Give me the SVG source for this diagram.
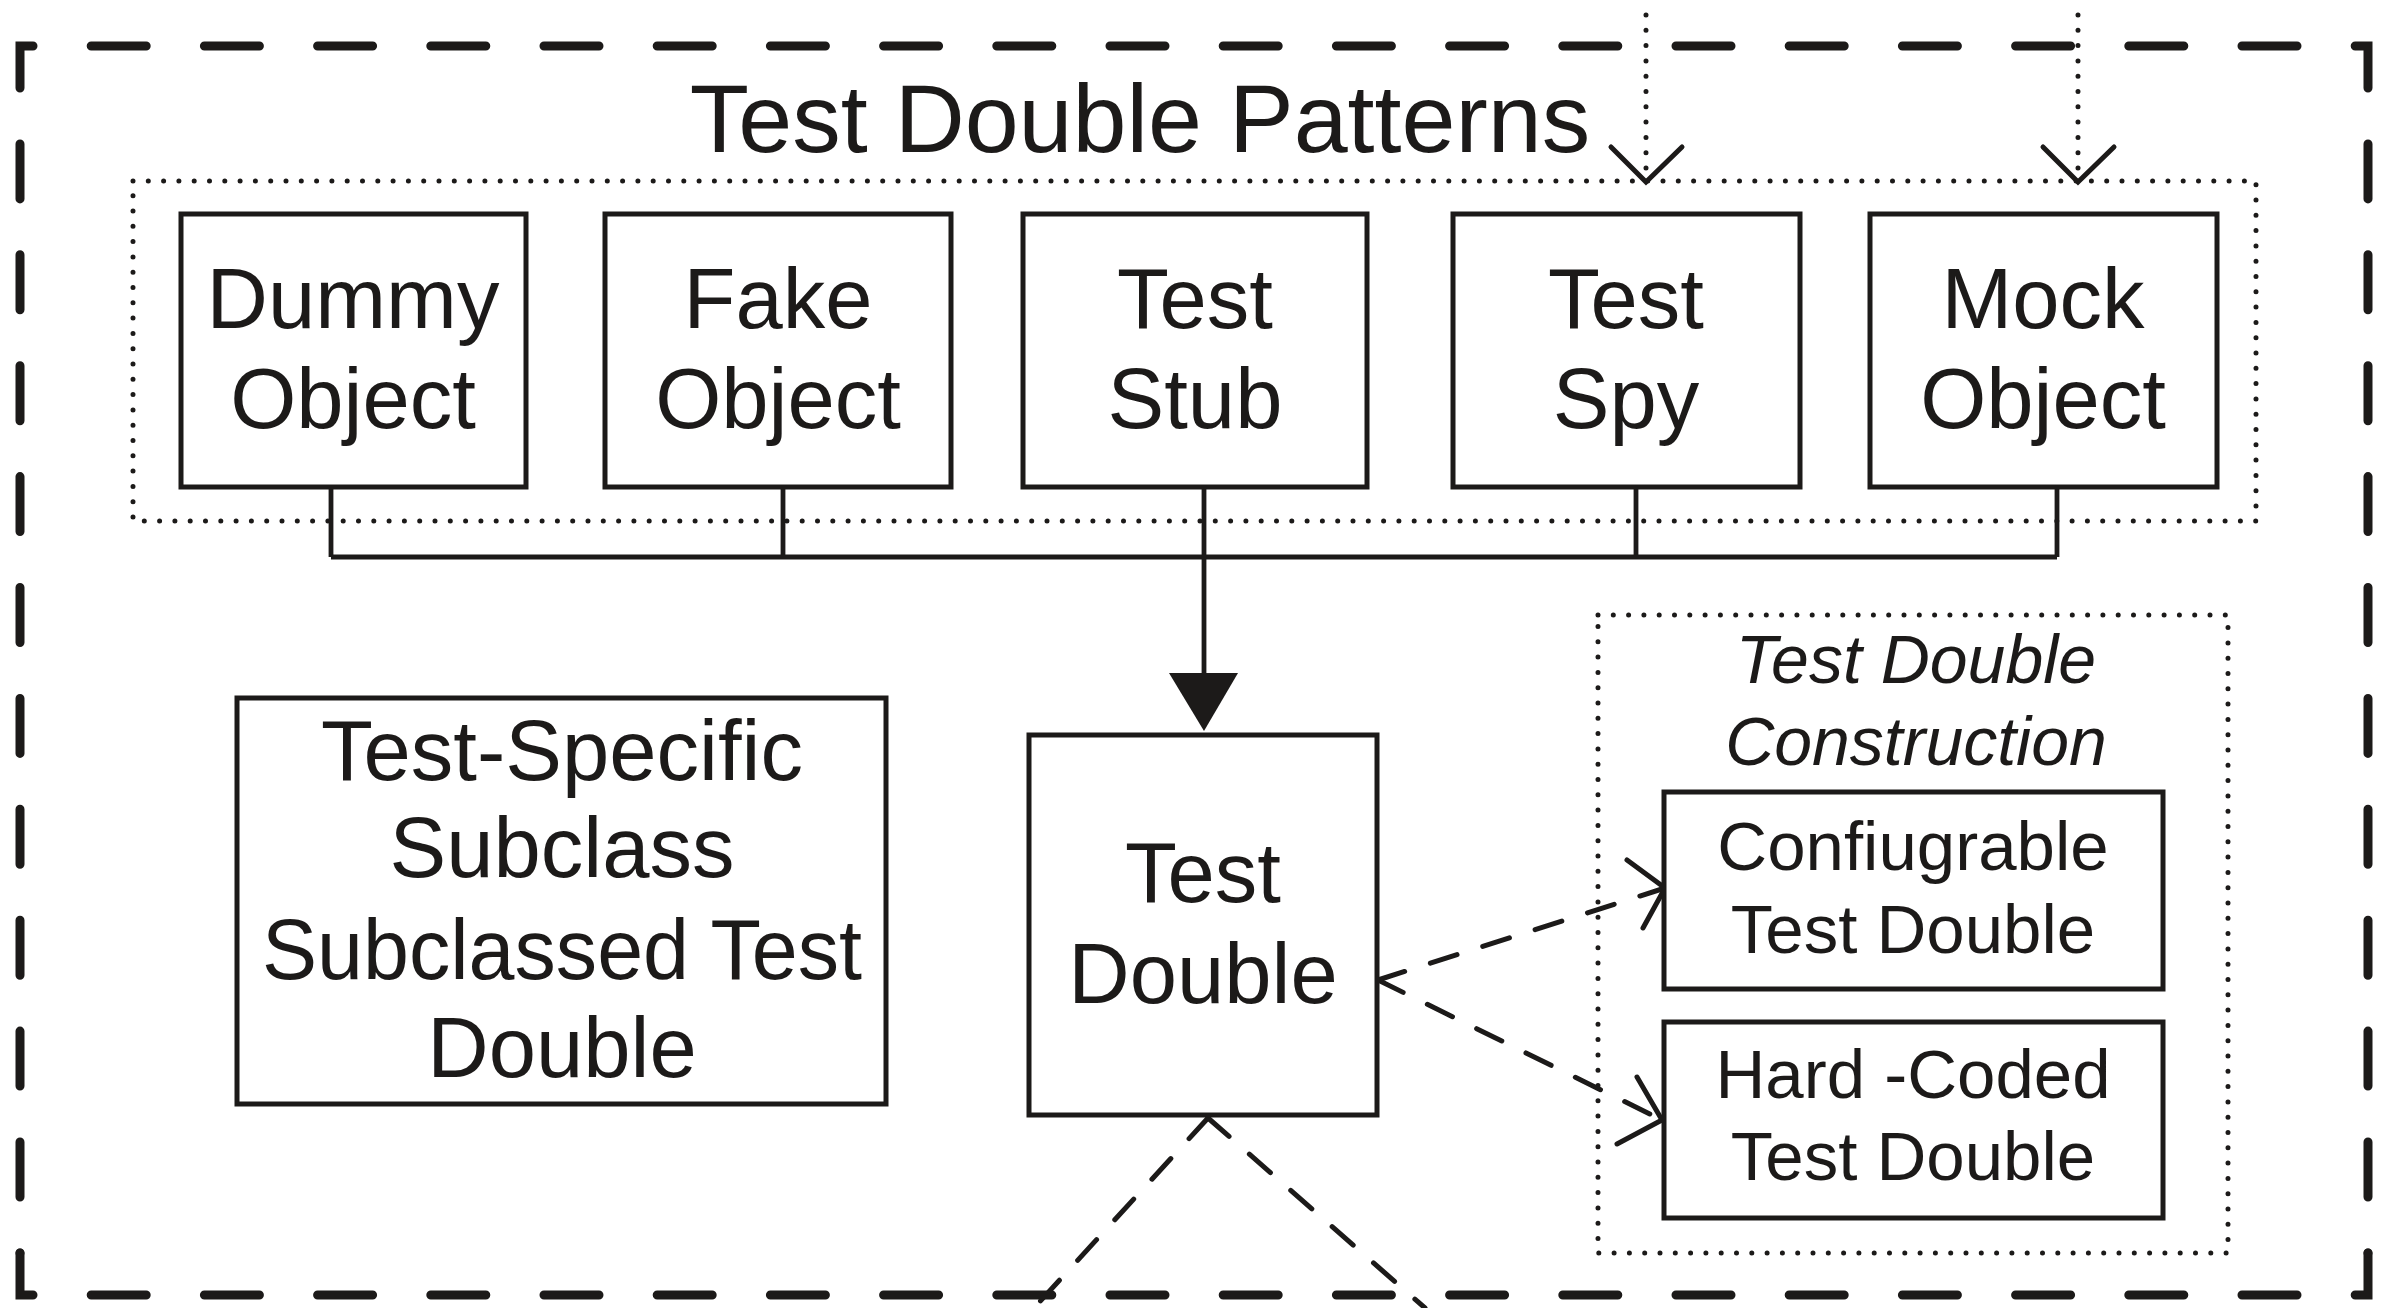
<svg xmlns="http://www.w3.org/2000/svg" width="2393" height="1308" viewBox="0 0 2393 1308">
  <style>
    .bg { fill: #ffffff; }
    .box { fill: #ffffff; stroke: #1c1a19; stroke-width: 5; }
    .dotted { fill: none; stroke: #1c1a19; stroke-width: 5; stroke-linecap: round; stroke-dasharray: 0 15.3; }
    .border { fill: none; stroke: #1c1a19; stroke-width: 9; stroke-linecap: round; stroke-linejoin: miter; }
    .line { fill: none; stroke: #1c1a19; stroke-width: 4.8; }
    .dash { fill: none; stroke: #1c1a19; stroke-width: 5; stroke-linecap: round; stroke-dasharray: 28 27; }
    .head { fill: none; stroke: #1c1a19; stroke-width: 5; stroke-linecap: round; stroke-linejoin: miter; }
    .t { font-family: "Liberation Sans", Arial, Helvetica, sans-serif; fill: #1c1a19; text-anchor: middle; }
    .big { font-size: 85px; }
    .mid { font-size: 69px; }
    .ital { font-size: 68px; font-style: italic; }
    .title { font-size: 97px; }
  </style>
  <rect class="bg" x="0" y="0" width="2393" height="1308"/>

  <!-- outer dashed frame -->
  <g id="frame">
    <path class="border" d="M20,88 V46 H2368 V88" stroke-dasharray="55 58.2"/>
    <path class="border" d="M20,1253 V1295 H2368 V1253" stroke-dasharray="55 58.2"/>
    <path class="border" d="M20,88 V1253" stroke-dasharray="55 55.9" stroke-dashoffset="55"/>
    <path class="border" d="M2368,88 V1253" stroke-dasharray="55 55.9" stroke-dashoffset="55"/>
    <text class="t title" x="1140" y="152">Test Double Patterns</text>
  </g>

  <!-- dotted group containers -->
  <g id="patterns-group">
    <rect class="dotted" x="133" y="181" width="2123" height="340"/>
  </g>
  <g id="construction-group">
    <rect class="dotted" x="1598" y="615" width="630" height="638"/>
    <text class="t ital" x="1916" y="683">Test Double</text>
    <text class="t ital" x="1916" y="765">Construction</text>
  </g>

  <!-- connectors -->
  <g id="connectors">
    <path class="line" d="M331,487 V557 M783,487 V557 M1204,487 V557 M1636,487 V557 M2057,487 V557 M331,557 H2057"/>
    <path class="line" d="M1204,557 V674"/>
    <polygon points="1169,673 1238,673 1204,731" fill="#1c1a19"/>
    <path class="dotted" d="M1646,15 V178"/>
    <path class="dotted" d="M2078,15 V178"/>
    <polyline class="head" points="1611,147 1646,182 1682,147"/>
    <polyline class="head" points="2043,147 2078,182 2114,147"/>
    <path class="dash" d="M1378,980 L1665,888"/>
    <path class="dash" d="M1378,980 L1662,1120"/>
    <polyline class="head" points="1627,860 1665,888 1643,928"/>
    <polyline class="head" points="1637,1077 1662,1120 1617,1144"/>
    <path class="dash" d="M1208,1118 L1034,1308"/>
    <path class="dash" d="M1208,1118 L1425,1308"/>
  </g>

  <!-- pattern nodes -->
  <g id="dummy-object">
    <rect class="box" x="181" y="214" width="345" height="273"/>
    <text class="t big" x="353" y="328">Dummy</text>
    <text class="t big" x="353" y="428">Object</text>
  </g>
  <g id="fake-object">
    <rect class="box" x="605" y="214" width="346" height="273"/>
    <text class="t big" x="778" y="328">Fake</text>
    <text class="t big" x="778" y="428">Object</text>
  </g>
  <g id="test-stub">
    <rect class="box" x="1023" y="214" width="344" height="273"/>
    <text class="t big" x="1195" y="328">Test</text>
    <text class="t big" x="1195" y="428">Stub</text>
  </g>
  <g id="test-spy">
    <rect class="box" x="1453" y="214" width="347" height="273"/>
    <text class="t big" x="1626" y="328">Test</text>
    <text class="t big" x="1626" y="428">Spy</text>
  </g>
  <g id="mock-object">
    <rect class="box" x="1870" y="214" width="347" height="273"/>
    <text class="t big" x="2043" y="328">Mock</text>
    <text class="t big" x="2043" y="428">Object</text>
  </g>

  <!-- central node -->
  <g id="test-double">
    <rect class="box" x="1029" y="735" width="348" height="380"/>
    <text class="t big" x="1203" y="902">Test</text>
    <text class="t big" x="1203" y="1003">Double</text>
  </g>

  <!-- test-specific subclass -->
  <g id="test-specific-subclass">
    <rect class="box" x="237" y="698" width="649" height="406"/>
    <text class="t big" x="562" y="780">Test-Specific</text>
    <text class="t big" x="562" y="877">Subclass</text>
    <text class="t big" x="562" y="979" textLength="600" lengthAdjust="spacingAndGlyphs">Subclassed Test</text>
    <text class="t big" x="562" y="1077">Double</text>
  </g>

  <!-- construction nodes -->
  <g id="configurable-test-double">
    <rect class="box" x="1664" y="792" width="499" height="197"/>
    <text class="t mid" x="1913" y="870">Confiugrable</text>
    <text class="t mid" x="1913" y="953">Test Double</text>
  </g>
  <g id="hard-coded-test-double">
    <rect class="box" x="1664" y="1022" width="499" height="196"/>
    <text class="t mid" x="1913" y="1098">Hard -Coded</text>
    <text class="t mid" x="1913" y="1180">Test Double</text>
  </g>
</svg>
